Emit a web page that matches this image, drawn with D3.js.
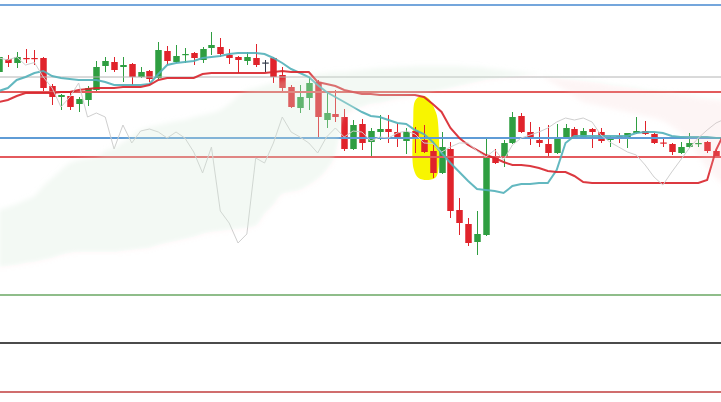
<!DOCTYPE html>
<html>
<head>
<meta charset="utf-8">
<script src="https://cdn.jsdelivr.net/npm/d3@7"></script>
<style>
html,body{margin:0;padding:0;background:#fff;overflow:hidden;}
svg{display:block;}
</style>
</head>
<body>
<div id="chart"></div>
<script>
// ---- data (prices) ----
const opens  = [1.0928,1.0941,1.0937,1.0942,1.0942,1.0942,1.0914,1.0903,1.0904,1.0896,
  1.0900,1.0910,1.0934,1.0938,1.0933,1.0936,1.0923,1.0929,1.0922,1.0949,
  1.0938,1.0945,1.0947,1.0940,1.0952,1.0953,1.0945,1.0943,1.0939,1.0942,
  1.09375,1.0942,1.0925,1.0913,1.0892,1.0902,1.0918,1.0880,1.0886,1.0883,
  1.0851,1.0876,1.0858,1.0868,1.0871,1.0868,1.0859,1.0869,1.0860,1.0849,
  1.0827,1.0851,1.0790,1.0776,1.0758,1.0765,1.0843,1.0843,1.0857,1.0884,
  1.0868,1.0860,1.0856,1.0847,1.0863,1.0871,1.0862,1.0871,1.0868,1.0860,
  1.0864,1.0862,1.0867,1.0869,1.0866,1.08575,1.0856,1.0847,1.0853,1.08565,
  1.0858,1.0849];
const highs  = [1.0945,1.0945,1.0948,1.0951,1.0950,1.0943,1.0916,1.0906,1.0907,1.0903,
  1.0914,1.0939,1.0943,1.0943,1.0943,1.0937,1.0933,1.0930,1.0958,1.0954,
  1.0955,1.0952,1.0948,1.0953,1.0968,1.0962,1.0951,1.0944,1.0948,1.0956,
  1.0940,1.0943,1.0933,1.0915,1.0915,1.0923,1.0920,1.0907,1.0910,1.0891,
  1.0880,1.0881,1.0872,1.0885,1.0885,1.0877,1.0872,1.0873,1.0875,1.0857,
  1.0868,1.0858,1.0802,1.0782,1.0789,1.0863,1.0851,1.0860,1.0888,1.0887,
  1.0878,1.0873,1.0875,1.0876,1.0876,1.0873,1.0872,1.0872,1.0872,1.0864,
  1.0867,1.0867,1.0883,1.0879,1.0867,1.0863,1.0857,1.0858,1.0867,1.0861,
  1.0859,1.0850];
const lows   = [1.0927,1.0933,1.0932,1.0937,1.0935,1.0909,1.0895,1.0890,1.0890,1.0888,
  1.0894,1.0907,1.0928,1.0928,1.0918,1.0915,1.0922,1.0918,1.0921,1.0935,
  1.0937,1.0937,1.0935,1.0937,1.0945,1.0943,1.0936,1.0927,1.0935,1.0933,
  1.0928,1.0917,1.0907,1.0892,1.0887,1.0890,1.0862,1.0872,1.0878,1.0849,
  1.0850,1.0850,1.0842,1.0860,1.0857,1.0853,1.0846,1.0847,1.0847,1.0822,
  1.0826,1.0782,1.0765,1.0754,1.0745,1.0764,1.0836,1.0833,1.0856,1.0867,
  1.0855,1.0853,1.0843,1.0846,1.0862,1.0862,1.0861,1.0852,1.0857,1.0853,
  1.0857,1.0852,1.0866,1.0865,1.0856,1.0853,1.0845,1.0846,1.0852,1.0853,
  1.0847,1.0842];
const closes = [1.0943,1.0937,1.0943,1.09415,1.09415,1.0912,1.0903,1.0905,1.0893,1.0901,
  1.0912,1.0933,1.0939,1.0930,1.0935,1.0923,1.0928,1.0921,1.0950,1.0939,
  1.0944,1.0946,1.0942,1.0951,1.0955,1.0946,1.0942,1.0940,1.0943,1.0935,
  1.09375,1.0923,1.0912,1.0893,1.0903,1.0917,1.0883,1.0887,1.0883,1.0851,
  1.0875,1.0857,1.0869,1.0871,1.0868,1.0862,1.0868,1.0862,1.0848,1.0827,
  1.0853,1.0789,1.0777,1.0757,1.0766,1.0842,1.0837,1.0857,1.0883,1.0868,
  1.0863,1.0857,1.0847,1.0863,1.0872,1.0863,1.0869,1.0868,1.0859,1.0863,
  1.0862,1.0867,1.0869,1.0866,1.0857,1.08565,1.0848,1.0853,1.0857,1.0857,
  1.0849,1.0843];
// closes of the periods after the visible window (only seen through the lagging line)
const laterCloses = [1.0850,1.0840,1.0855,1.0862,1.0865,1.0868,1.0872,1.0878,1.0882,1.0880,
  1.0882,1.0878,1.0865,1.0858,1.0853,1.0848,1.0845,1.0835,1.0823,1.0815,
  1.0828,1.0840,1.0852,1.0862,1.0870,1.0877,1.0881];
const laggingShift = 26;

const tenkan = [1.0909,1.0912,1.0920,1.0923,1.0927,1.0929,1.0924,1.0922,1.0921,1.0920,
  1.0920,1.0920,1.0918,1.0915,1.0915,1.0915,1.0915,1.0916,1.0926,1.0935,
  1.0937,1.0938,1.0939,1.0942,1.0943,1.0944,1.0946,1.0947,1.0947,1.0947,
  1.0946,1.0942,1.0937,1.0931,1.0927,1.0923,1.0915,1.0908,1.0903,1.0898,
  1.0893,1.0888,1.0884,1.0883,1.0880,1.0877,1.0876,1.0870,1.0866,1.0858,
  1.0847,1.0837,1.0828,1.0819,1.0811,1.0810,1.0809,1.0807,1.0814,1.0816,
  1.0816,1.0817,1.0817,1.0830,1.0857,1.0864,1.0864,1.0864,1.0864,1.0864,
  1.0864,1.0864,1.0867,1.0868,1.0868,1.0867,1.0864,1.0863,1.0863,1.0863,
  1.0863,1.0862,1.0862];
const kijun = [1.0898,1.0900,1.0904,1.0907,1.0907,1.0907,1.0907,1.0908,1.0908,1.0910,
  1.0911,1.0912,1.0912,1.0912,1.0913,1.0913,1.0913,1.0915,1.0920,1.0922,
  1.0922,1.0922,1.0922,1.0926,1.0927,1.0927,1.0927,1.0927,1.0927,1.0927,
  1.0927,1.0928,1.0929,1.0928,1.0928,1.0928,1.0918,1.0916,1.0914,1.0910,
  1.0908,1.0906,1.0906,1.0905,1.0905,1.0905,1.0905,1.0905,1.0903,1.0896,
  1.0888,1.0872,1.0862,1.0855,1.0850,1.0845,1.0842,1.0838,1.0835,1.0835,
  1.0834,1.0832,1.0829,1.0828,1.0828,1.0824,1.0818,1.0817,1.0817,1.0817,
  1.0817,1.0817,1.0817,1.0817,1.0817,1.0817,1.0817,1.0817,1.0817,1.0817,
  1.0820,1.0850,1.0868];
const spanA = [1.0790,1.0793,1.0796,1.0800,1.0804,1.0814,1.0822,1.0830,1.0837,1.0840,
  1.0842,1.0843,1.0849,1.0852,1.0858,1.0864,1.0870,1.0873,1.0875,1.0877,
  1.0879,1.0880,1.0883,1.0885,1.0887,1.0890,1.0896,1.0904,1.0910,1.0912,
  1.0915,1.0917,1.0920,1.0921,1.0922,1.0924,1.0926,1.0927,1.0928,1.0928,
  1.0929,1.0930,1.0931,1.0932,1.0932,1.0933,1.0933,1.0934,1.0934,1.0934,
  1.0934,1.0934,1.0934,1.0933,1.0933,1.0932,1.0931,1.0930,1.0929,1.0928,
  1.0927,1.0926,1.0920,1.0915,1.0910,1.0904,1.0898,1.0896,1.0894,1.0892,
  1.0890,1.0888,1.0886,1.0884,1.0882,1.0879,1.0874,1.0867,1.0858,1.0845,
  1.0832,1.0822,1.0815];
const spanB = [1.0733,1.0734,1.0735,1.0737,1.0738,1.0740,1.0742,1.0745,1.0747,1.0748,
  1.0748,1.0748,1.0748,1.0748,1.0749,1.0750,1.0751,1.0752,1.0755,1.0757,
  1.0759,1.0761,1.0763,1.0766,1.0768,1.0769,1.0770,1.0771,1.0772,1.0774,
  1.0786,1.0795,1.0806,1.0808,1.0810,1.0815,1.0821,1.0830,1.0845,1.0882,
  1.0890,1.0893,1.0896,1.0897,1.0899,1.0901,1.0902,1.0904,1.0906,1.0908,
  1.0910,1.0912,1.0914,1.0916,1.0918,1.0920,1.0921,1.0922,1.0923,1.0924,
  1.0925,1.09255,1.0923,1.0922,1.0921,1.0920,1.0919,1.0918,1.0917,1.0915,
  1.0914,1.0913,1.0912,1.0910,1.0909,1.0908,1.0907,1.0905,1.0904,1.0902,
  1.0901,1.0900,1.0899];

const levels = [
  {price:1.0995, color:"#74a6dc", w:2},
  {price:1.0923, color:"#b4b4b4", w:1},
  {price:1.0908, color:"#e25b5b", w:2},
  {price:1.0862, color:"#5f9cd6", w:2},
  {price:1.0843, color:"#e45a5e", w:2},
  {price:1.0705, color:"#8fbd8a", w:2},
  {price:1.0657, color:"#4b4b4b", w:2},
  {price:1.0608, color:"#d06d6d", w:2}
];
// highlighter mark: [candle index, price]
const highlight = [[46.95,1.0898],[47.4,1.0903],[48.0,1.0904],[48.6,1.0901],[49.25,1.0890],
  [49.55,1.0881],[49.6,1.0828],[49.25,1.0822],[48.3,1.0820],[47.4,1.0822],[46.85,1.0831],[46.8,1.0880]];

// ---- chart ----
const W = 721, H = 402;
const svg = d3.select("#chart").append("svg").attr("width", W).attr("height", H);
svg.append("rect").attr("width", W).attr("height", H).attr("fill", "#fff");

const x = d3.scaleLinear().domain([0, 81]).range([-1, 716]);
const y = d3.scaleLinear().domain([1.1000, 1.0598]).range([0, 402]);

const candles = opens.map((o, i) => ({i, o, h: highs[i], l: lows[i], c: closes[i]}));
const allCloses = closes.concat(laterCloses);
const lagging = allCloses.slice(laggingShift).map((v, i) => [i, v]);

// highlighter
svg.append("path")
  .attr("d", d3.line().x(d => x(d[0])).y(d => y(d[1])).curve(d3.curveCatmullRomClosed.alpha(0.5))(highlight))
  .attr("fill", "#f8f500");

// candles
const bw = 6.5;
const colorOf = d => d.c > d.o ? "#2f9e41" : (d.c < d.o ? "#e0232b" : "#333a4a");
const cg = svg.append("g");
cg.selectAll("line").data(candles).join("line")
  .attr("x1", d => Math.round(x(d.i)) + 0.5).attr("x2", d => Math.round(x(d.i)) + 0.5)
  .attr("y1", d => y(d.h)).attr("y2", d => y(d.l))
  .attr("stroke", colorOf).attr("stroke-width", 1);
cg.selectAll("rect").data(candles).join("rect")
  .attr("x", d => Math.round(x(d.i)) + 0.5 - bw / 2)
  .attr("y", d => y(Math.max(d.o, d.c)))
  .attr("width", bw)
  .attr("height", d => Math.max(1.2, Math.abs(y(d.o) - y(d.c))))
  .attr("fill", colorOf);

// horizontal levels
svg.append("g").selectAll("line").data(levels).join("line")
  .attr("x1", 0).attr("x2", W)
  .attr("y1", d => y(d.price)).attr("y2", d => y(d.price))
  .attr("stroke", d => d.color).attr("stroke-width", d => d.w);

// indicator lines
const line = d3.line().x((d, i) => x(i)).y(d => y(d));
svg.append("path").attr("d", line(tenkan)).attr("fill", "none")
  .attr("stroke", "#52b0b9").attr("stroke-width", 2).attr("stroke-opacity", 0.9);
svg.append("path").attr("d", line(kijun)).attr("fill", "none")
  .attr("stroke", "#d8242b").attr("stroke-width", 2).attr("stroke-opacity", 0.9);
svg.append("path").attr("d", d3.line().x(d => x(d[0])).y(d => y(d[1]))(lagging))
  .attr("fill", "none").attr("stroke", "#cfcfcf").attr("stroke-width", 1);

// cloud
const defs = svg.append("defs");
const curve = d3.curveMonotoneX;
defs.append("filter").attr("id", "soft").attr("x", "-5%").attr("y", "-10%").attr("width", "110%").attr("height", "120%")
  .append("feGaussianBlur").attr("stdDeviation", 2.5);
const idx = d3.range(spanA.length);
defs.append("clipPath").attr("id", "aboveB").append("path")
  .attr("d", d3.area().x(i => x(i)).y0(0).y1(i => y(spanB[i])).curve(curve)(idx));
defs.append("clipPath").attr("id", "belowB").append("path")
  .attr("d", d3.area().x(i => x(i)).y0(H).y1(i => y(spanB[i])).curve(curve)(idx));
const cloud = d3.area().x(i => x(i)).y0(i => y(spanB[i])).y1(i => y(spanA[i])).curve(curve);
svg.append("g").attr("clip-path", "url(#aboveB)").append("path")
  .attr("d", cloud(idx)).attr("fill", "rgb(214,235,220)").attr("fill-opacity", 0.3).attr("filter", "url(#soft)");
svg.append("g").attr("clip-path", "url(#belowB)").append("path")
  .attr("d", cloud(idx)).attr("fill", "rgb(245,195,195)").attr("fill-opacity", 0.16).attr("filter", "url(#soft)");
</script>
</body>
</html>
